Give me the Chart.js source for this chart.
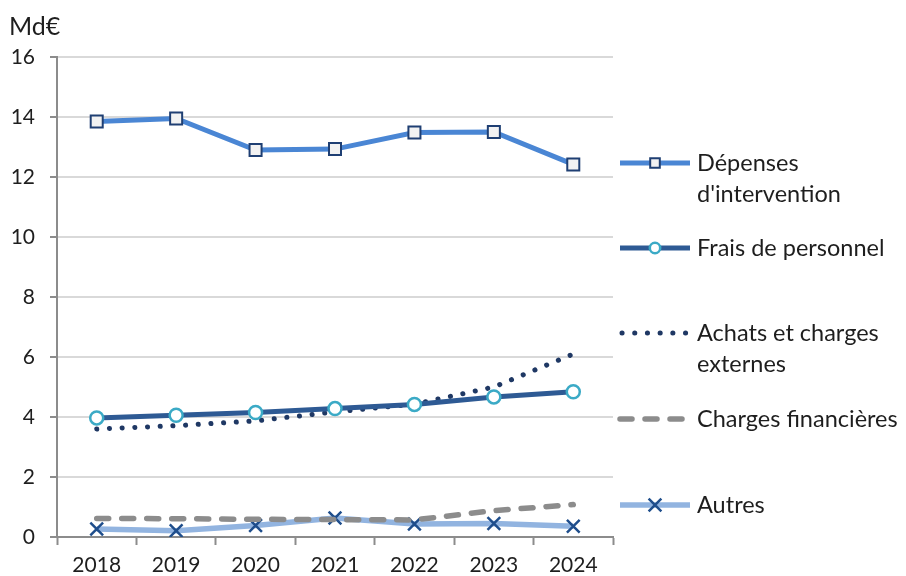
<!DOCTYPE html>
<html>
<head>
<meta charset="utf-8">
<script src="https://cdn.jsdelivr.net/npm/chart.js@4.4.1/dist/chart.umd.min.js"></script>
<style>
  html, body { margin: 0; padding: 0; background: #fff; }
  #wrap { position: relative; width: 906px; height: 576px; }
</style>
</head>
<body>
<div id="wrap"><canvas id="chartCharges" width="906" height="576"></canvas></div>
<script>
// Données (Md€)
const annees = ['2018', '2019', '2020', '2021', '2022', '2023', '2024'];
const depensesIntervention = [13.85, 13.95, 12.9, 12.93, 13.48, 13.5, 12.42];
const fraisPersonnel = [3.97, 4.06, 4.15, 4.28, 4.42, 4.67, 4.84];
const achatsChargesExternes = [3.6, 3.71, 3.87, 4.17, 4.43, 5.0, 6.1];
const chargesFinancieres = [0.62, 0.61, 0.59, 0.58, 0.57, 0.88, 1.08];
const autres = [0.27, 0.21, 0.38, 0.63, 0.43, 0.45, 0.36];
const legendeTextes = [
    ['Dépenses', "d'intervention"],
    ['Frais de personnel'],
    ['Achats et charges', 'externes'],
    ['Charges financières'],
    ['Autres']
];
const uniteLabel = 'Md€';

const police = 'Lato, "Open Sans", sans-serif';
const couleurTexte = '#1E1E1E';

// Légende à droite dessinée à la main
const legendeDroite = {
    id: 'legendeDroite',
    afterDraw(chart) {
        const ctx = chart.ctx;
        const ys = [163, 248, 333, 419, 505];
        ctx.save();
        chart.data.datasets.forEach((ds, i) => {
            const y = ys[i];
            ctx.save();
            ctx.strokeStyle = ds.borderColor;
            ctx.lineWidth = ds.borderWidth;
            ctx.lineCap = ds.borderCapStyle || 'butt';
            ctx.setLineDash(ds.borderDash || []);
            ctx.beginPath();
            ctx.moveTo(ds.borderDash && ds.borderDash[0] < 1 ? 622 : 620, y);
            ctx.lineTo(690, y);
            ctx.stroke();
            ctx.restore();
            if (ds.pointRadius > 0) {
                ctx.save();
                ctx.fillStyle = ds.pointBackgroundColor;
                ctx.strokeStyle = ds.pointBorderColor;
                ctx.lineWidth = ds.pointBorderWidth;
                Chart.helpers.drawPoint(ctx, {
                    pointStyle: ds.pointStyle,
                    radius: ds.pointStyle === 'crossRot' ? ds.pointRadius : ds.pointRadius * 0.8,
                    rotation: 0,
                    borderWidth: ds.pointBorderWidth
                }, 655, y);
                ctx.restore();
            }
            ctx.fillStyle = couleurTexte;
            ctx.font = '23.5px ' + police;
            ctx.textBaseline = 'middle';
            ctx.textAlign = 'left';
            legendeTextes[i].forEach((t, k) => ctx.fillText(t, 697, y + k * 31));
        });
        ctx.font = '25px ' + police;
        ctx.textBaseline = 'middle';
        ctx.fillText(uniteLabel, 9, 27);
        ctx.restore();
    }
};

const ctx = document.getElementById('chartCharges').getContext('2d');
const chartCharges = new Chart(ctx, {
    type: 'line',
    data: {
        labels: annees,
        datasets: [
            {
                label: legendeTextes[0].join(' '),
                data: depensesIntervention,
                borderColor: '#4A86D4',
                borderWidth: 5,
                pointStyle: 'rect',
                pointRadius: 8.5,
                pointBackgroundColor: '#F2F2F2',
                pointBorderColor: '#1F3F73',
                pointBorderWidth: 2,
                tension: 0
            },
            {
                label: legendeTextes[1].join(' '),
                data: fraisPersonnel,
                borderColor: '#2E5A94',
                borderWidth: 5,
                pointStyle: 'circle',
                pointRadius: 6.5,
                pointBackgroundColor: '#FFFFFF',
                pointBorderColor: '#3BAAC6',
                pointBorderWidth: 2.5,
                tension: 0
            },
            {
                label: legendeTextes[2].join(' '),
                data: achatsChargesExternes,
                borderColor: '#1F3864',
                borderWidth: 5,
                borderDash: [0.1, 12.6],
                borderCapStyle: 'round',
                pointRadius: 0,
                tension: 0
            },
            {
                label: legendeTextes[3].join(' '),
                data: chargesFinancieres,
                borderColor: '#8C8C8C',
                borderWidth: 5.5,
                borderDash: [12, 13],
                borderCapStyle: 'round',
                pointRadius: 0,
                tension: 0
            },
            {
                label: legendeTextes[4].join(' '),
                data: autres,
                borderColor: '#92B4E0',
                borderWidth: 5.5,
                pointStyle: 'crossRot',
                pointRadius: 9,
                pointBackgroundColor: '#1F4E8C',
                pointBorderColor: '#1F4E8C',
                pointBorderWidth: 2.5,
                tension: 0
            }
        ]
    },
    options: {
        responsive: false,
        animation: false,
        devicePixelRatio: 1,
        layout: { padding: { top: 57, right: 293, bottom: 0, left: 0 } },
        plugins: {
            legend: { display: false },
            tooltip: { enabled: false }
        },
        scales: {
            x: {
                offset: true,
                grid: {
                    offset: true,
                    drawOnChartArea: false,
                    drawTicks: true,
                    tickLength: 8,
                    tickColor: '#8C8C8C',
                    tickWidth: 2
                },
                border: { color: '#8C8C8C', width: 2 },
                ticks: { color: couleurTexte, font: { family: police, size: 21 }, padding: 8 },
                afterFit(scale) { scale.height = 39; }
            },
            y: {
                min: 0,
                max: 16,
                ticks: { stepSize: 2, color: couleurTexte, font: { family: police, size: 21 }, padding: 15 },
                grid: {
                    color: '#D9D9D9',
                    lineWidth: 2,
                    tickLength: 7,
                    tickColor: '#8C8C8C',
                    tickWidth: 2
                },
                border: { color: '#8C8C8C', width: 2 },
                afterFit(scale) { scale.width = 57; }
            }
        }
    },
    plugins: [legendeDroite]
});
</script>
</body>
</html>
